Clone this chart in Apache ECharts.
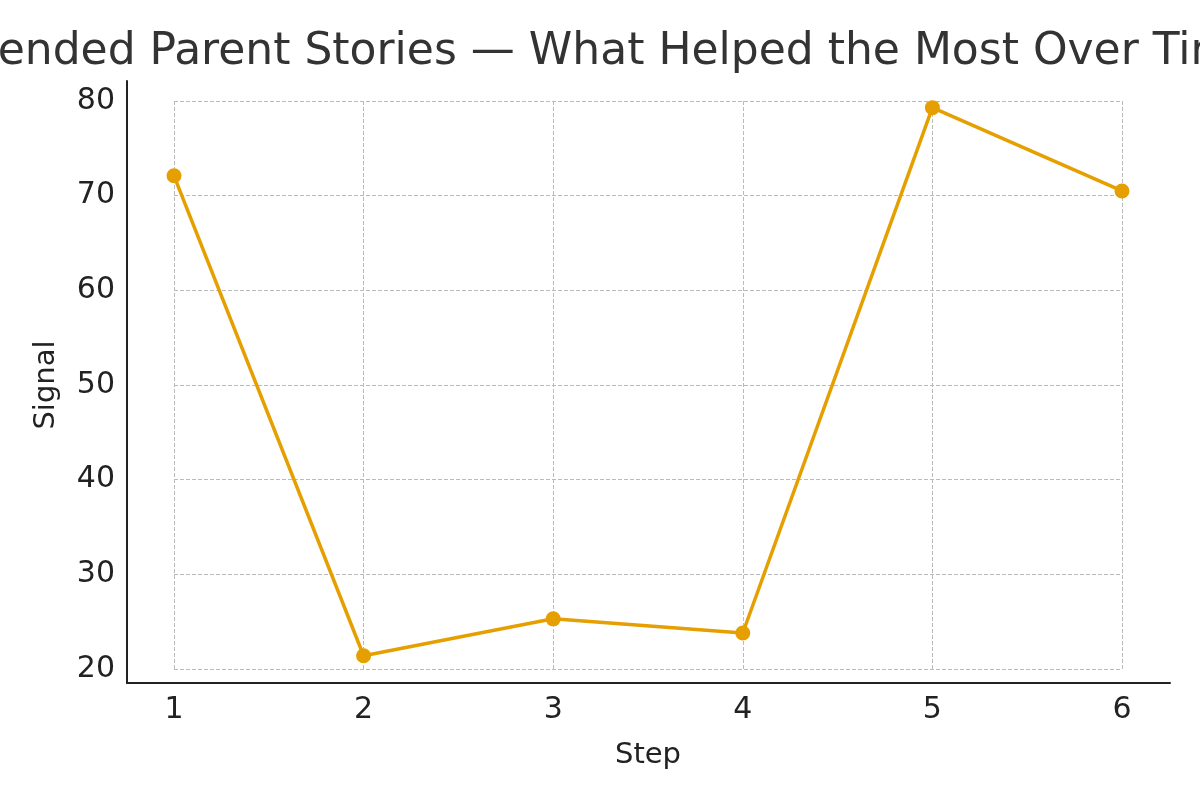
<!DOCTYPE html>
<html><head><meta charset="utf-8">
<script src="https://cdn.jsdelivr.net/npm/echarts@6/dist/echarts.min.js"></script>
<style>html,body{margin:0;background:#fff}#c{width:1200px;height:800px}</style>
</head><body><div id="c"></div>
<script>
const titleText = "Intended Parent Stories — What Helped the Most Over Time";
const steps = [1, 2, 3, 4, 5, 6];
const signal = [72.1, 21.4, 25.3, 23.8, 79.3, 70.5];
const yTicks = [20, 30, 40, 50, 60, 70, 80];
const font = "DejaVu Sans";
const chart = echarts.init(document.getElementById('c'));
chart.setOption({
  backgroundColor: '#fff',
  animation: false,
  title: { text: titleText, left: 'center', top: 26, textStyle: { fontFamily: font, fontSize: 44, fontWeight: 'normal', color: '#333' } },
  grid: [
    { left: 127, right: 30, top: 81, bottom: 117 },
    { left: 174, right: 78, top: 101, bottom: 131 }
  ],
  xAxis: [
    { gridIndex: 0, type: 'value', min: 0, max: 1, axisLine: { show: true, onZero: false, lineStyle: { color: '#222', width: 2 } }, axisTick: { show: false }, axisLabel: { show: false }, splitLine: { show: false } },
    { gridIndex: 1, type: 'value', min: 1, max: 6, interval: 1, name: 'Step', nameLocation: 'middle', nameGap: 72,
      nameTextStyle: { fontFamily: font, fontSize: 29, color: '#222' },
      axisLine: { show: false }, axisTick: { show: false },
      axisLabel: { margin: 26, fontFamily: font, fontSize: 30, color: '#222', formatter: v => steps.includes(v) ? String(v) : '' },
      splitLine: { show: true, lineStyle: { color: '#bbb', type: 'dashed', width: 1 } } }
  ],
  yAxis: [
    { gridIndex: 0, type: 'value', min: 0, max: 1, axisLine: { show: true, onZero: false, lineStyle: { color: '#222', width: 2 } }, axisTick: { show: false }, axisLabel: { show: false }, splitLine: { show: false } },
    { gridIndex: 1, type: 'value', min: yTicks[0], max: yTicks[yTicks.length - 1], interval: 10, name: 'Signal', nameLocation: 'middle', nameGap: 113,
      nameTextStyle: { fontFamily: font, fontSize: 29, color: '#222' },
      axisLine: { show: false }, axisTick: { show: false },
      axisLabel: { margin: 59, fontFamily: font, fontSize: 30, color: '#222' },
      splitLine: { show: true, lineStyle: { color: '#bbb', type: 'dashed', width: 1 } } }
  ],
  series: [{
    type: 'line', xAxisIndex: 1, yAxisIndex: 1,
    data: steps.map((s, i) => [s, signal[i]]),
    symbol: 'circle', symbolSize: 15,
    lineStyle: { color: '#E69F00', width: 3.5 },
    itemStyle: { color: '#E69F00' }
  }]
});
</script></body></html>
